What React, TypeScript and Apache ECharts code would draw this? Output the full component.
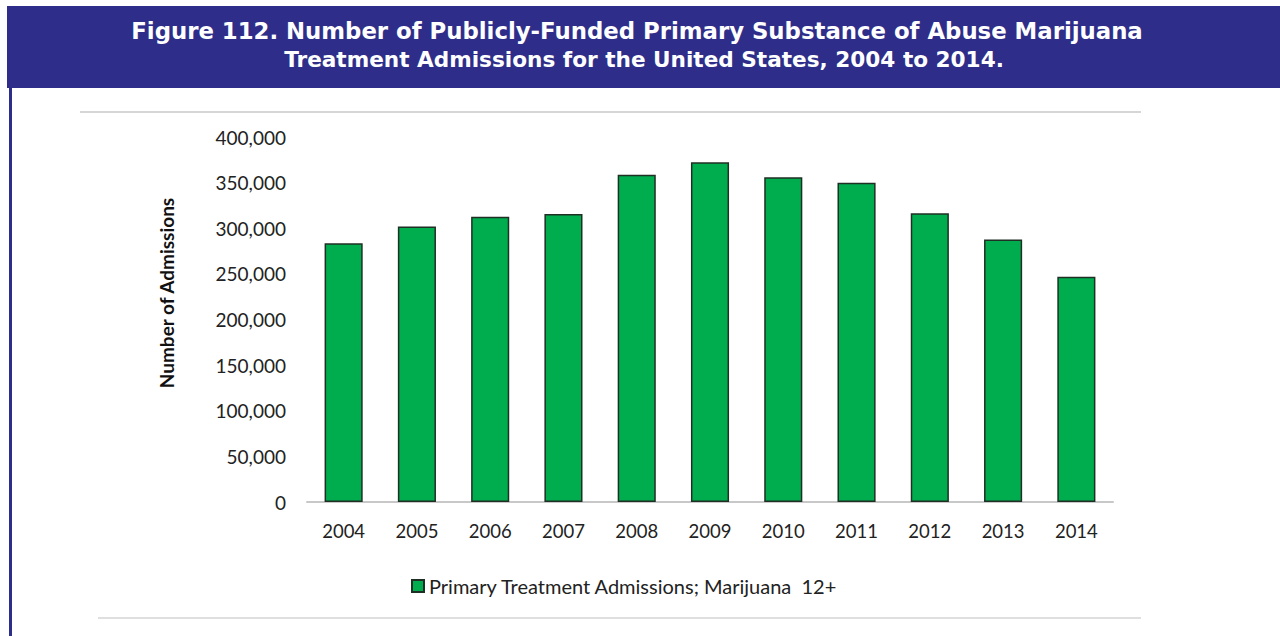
import React, { useEffect, useRef } from "react";
import * as echarts from "echarts";

const years = ["2004", "2005", "2006", "2007", "2008", "2009", "2010", "2011", "2012", "2013", "2014"];
const admissions = [283500, 302000, 312700, 315600, 358600, 372200, 356000, 350000, 316500, 287700, 246900];
const seriesName = "Primary Treatment Admissions; Marijuana  12+";
const titleLine1 = "Figure 112. Number of Publicly-Funded Primary Substance of Abuse Marijuana";
const titleLine2 = "Treatment Admissions for the United States, 2004 to 2014.";
const yAxisName = "Number of Admissions";

export default function App() {
  const ref = useRef<HTMLDivElement>(null);
  useEffect(() => {
    if (!ref.current) return;
    const chart = echarts.init(ref.current, undefined, { renderer: "svg" });
    chart.setOption({
      animation: false,
      backgroundColor: "#ffffff",
      graphic: [
        { type: "rect", shape: { x: 7, y: 6, width: 1280, height: 82 }, style: { fill: "#2E2E8A" }, z: 0 },
        { type: "rect", shape: { x: 9, y: 88, width: 3, height: 560 }, style: { fill: "#2E2E8A" }, z: 0 },
        { type: "line", shape: { x1: 80, y1: 112, x2: 1141, y2: 112 }, style: { stroke: "#C8C8C8", lineWidth: 1.5 } },
        { type: "line", shape: { x1: 98, y1: 618, x2: 1141, y2: 618 }, style: { stroke: "#D4D4D4", lineWidth: 1.5 } },
        {
          type: "text",
          x: 637,
          y: 31,
          z: 10,
          style: {
            text: titleLine1,
            fill: "#ffffff",
            font: "bold 22.8px 'DejaVu Sans', sans-serif",
            lineHeight: 24,
            align: "center",
            verticalAlign: "middle",
          },
        },
        {
          type: "text",
          x: 644,
          y: 59,
          z: 10,
          style: {
            text: titleLine2,
            fill: "#ffffff",
            font: "bold 21.6px 'DejaVu Sans', sans-serif",
            lineHeight: 24,
            align: "center",
            verticalAlign: "middle",
          },
        },
        {
          type: "text",
          x: 166,
          y: 293,
          rotation: Math.PI / 2,
          style: {
            text: yAxisName,
            fill: "#111",
            font: "bold 19px Lato, sans-serif",
            align: "center",
            verticalAlign: "middle",
          },
        },
      ],
      legend: {
        top: 571,
        left: 406,
        itemWidth: 12,
        itemHeight: 12,
        itemGap: 6,
        textStyle: { fontFamily: "Lato, sans-serif", fontSize: 20, color: "#222" },
        data: [{ name: seriesName, icon: "rect" }],
      },
      grid: { left: 307, right: 167, top: 137, bottom: 134 },
      xAxis: {
        type: "category",
        data: years,
        axisLine: { lineStyle: { color: "#C8C8C8", width: 2 } },
        axisTick: { show: false },
        axisLabel: { margin: 19, fontFamily: "Lato, sans-serif", fontSize: 18.5, color: "#222" },
      },
      yAxis: {
        type: "value",
        min: 0,
        max: 400000,
        interval: 50000,
        axisLine: { show: false },
        axisTick: { show: false },
        splitLine: { show: false },
        axisLabel: {
          margin: 21,
          fontFamily: "Lato, sans-serif",
          fontSize: 19,
          color: "#222",
          formatter: (v: number) => v.toLocaleString("en-US"),
        },
      },
      series: [
        {
          name: seriesName,
          type: "bar",
          data: admissions,
          barWidth: "52%",
          itemStyle: { color: "#00AD4E", borderColor: "#1f2f24", borderWidth: 1.5 },
        },
      ],
    });
    return () => chart.dispose();
  }, []);
  return <div ref={ref} style={{ position: "fixed", left: 0, top: 0, width: 1280, height: 636 }} />;
}
